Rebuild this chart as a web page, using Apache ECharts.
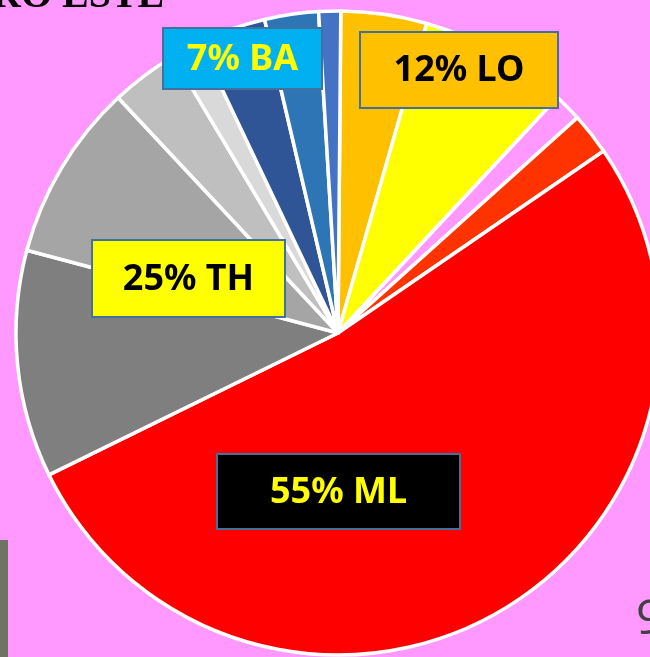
<!DOCTYPE html>
<html>
<head>
<meta charset="utf-8">
<script src="https://cdn.jsdelivr.net/npm/echarts@6/dist/echarts.min.js"></script>
<style>
  html, body { margin: 0; padding: 0; background: #FF99FF; }
  #chart { width: 650px; height: 657px; }
</style>
</head>
<body>
<div id="chart"></div>
<script>
// 扇区（顺时针，从12点开始）
var sliceNames = ['LO-a', 'LO-b', 'hueco', 'ML-a', 'ML-b', 'TH-a', 'TH-b', 'TH-c', 'TH-d', 'BA-a', 'BA-b', 'BA-c']
var sliceValues = [4.3, 7.5, 1.4, 2.1, 52.3, 11.4, 8.9, 3.4, 1.5, 3.4, 2.7, 1.1]
var sliceColors = ['#FFC000', '#FFFF00', 'transparent', '#FF3300', '#FF0000',
    '#7F7F7F', '#A5A5A5', '#BFBFBF', '#D9D9D9', '#2F5597', '#2E75B6', '#4472C4']

// 标签框
var boxTexts = ['7% BA', '12% LO', '25% TH', '55% ML']
var boxFill = ['#00B0F0', '#FFC000', '#FFFF00', '#000000']
var boxTextColor = ['#FFFF00', '#000000', '#000000', '#FFFF00']
var boxRects = [
    [163, 28, 159, 61],
    [360, 32, 198, 76],
    [92, 240, 193, 77],
    [217, 454, 243, 75]
]

var chart = echarts.init(document.getElementById('chart'))

var pieData = sliceValues.map(function (v, i) {
    return {
        name: sliceNames[i],
        value: v,
        itemStyle: { color: sliceColors[i] }
    }
})

var graphics = []
boxTexts.forEach(function (t, i) {
    var r = boxRects[i]
    graphics.push({
        type: 'rect',
        shape: { x: r[0], y: r[1], width: r[2], height: r[3] },
        style: { fill: boxFill[i], stroke: '#41719C', lineWidth: 2 },
        z: 10
    })
    graphics.push({
        type: 'text',
        x: r[0] + r[2] / 2,
        y: r[1] + r[3] / 2 + 1,
        style: {
            text: t,
            fill: boxTextColor[i],
            font: 'bold 36px "Noto Sans"',
            align: 'center',
            verticalAlign: 'middle'
        },
        z: 11
    })
})

// 顶部被裁掉的标题
graphics.push({
    type: 'text',
    x: -8,
    y: 17,
    style: {
        text: 'RO ESTE',
        fill: '#000',
        font: 'bold 40px "Liberation Serif"',
        verticalAlign: 'bottom'
    },
    z: 12
})
// 左下角图片边
graphics.push({
    type: 'rect',
    shape: { x: 0, y: 540, width: 8, height: 117 },
    style: { fill: '#6F7364' },
    z: 12
})
// 页码
graphics.push({
    type: 'text',
    x: 636,
    y: 644,
    style: {
        text: '9',
        fill: '#404040',
        font: '48px "Open Sans"',
        verticalAlign: 'bottom'
    },
    z: 12
})

chart.setOption({
    backgroundColor: '#FF99FF',
    animation: false,
    series: [{
        type: 'pie',
        center: [338, 333],
        radius: 322,
        startAngle: 89.5,
        clockwise: true,
        avoidLabelOverlap: false,
        label: { show: false },
        labelLine: { show: false },
        emphasis: { disabled: true },
        itemStyle: { borderColor: '#FFFFFF', borderWidth: 3.5 },
        data: pieData
    }],
    graphic: graphics
})
</script>
</body>
</html>
